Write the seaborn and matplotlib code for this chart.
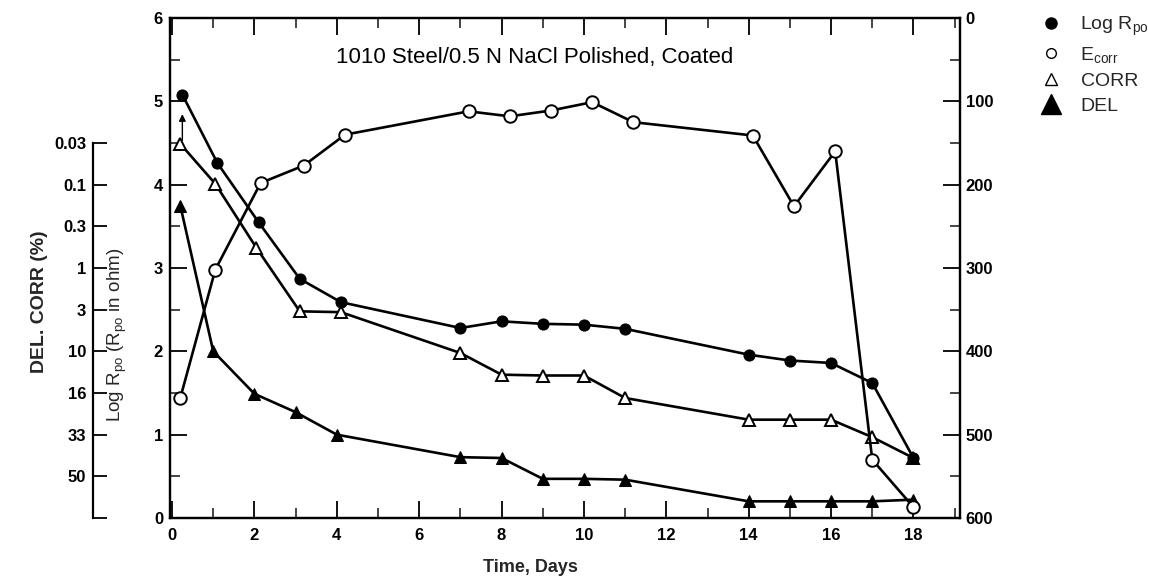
import numpy as np
import pandas as pd
import matplotlib
matplotlib.use("Agg")
import matplotlib.pyplot as plt
from matplotlib.lines import Line2D
from matplotlib.ticker import MultipleLocator
import seaborn as sns

# ---------------- data ----------------
logr_days = [0.25, 1.1, 2.1, 3.1, 4.1, 7.0, 8.0, 9.0, 10.0, 11.0, 14.0, 15.0, 16.0, 17.0, 18.0]
logr_vals = [5.08, 4.26, 3.55, 2.87, 2.59, 2.28, 2.36, 2.33, 2.32, 2.27, 1.96, 1.89, 1.86, 1.62, 0.72]

ecorr_days = [0.2, 1.05, 2.15, 3.2, 4.2, 7.2, 8.2, 9.2, 10.2, 11.2, 14.1, 15.1, 16.1, 17.0, 18.0]
ecorr_vals = [456, 302, 198, 177, 140, 112, 118, 111, 101, 125, 141, 226, 160, 530, 587]

corr_days = [0.2, 1.05, 2.05, 3.1, 4.1, 7.0, 8.0, 9.0, 10.0, 11.0, 14.0, 15.0, 16.0, 17.0, 18.0]
corr_vals = [4.49, 4.01, 3.24, 2.48, 2.47, 1.98, 1.72, 1.71, 1.71, 1.44, 1.18, 1.18, 1.18, 0.97, 0.72]

del_days = [0.2, 1.0, 2.0, 3.0, 4.0, 7.0, 8.0, 9.0, 10.0, 11.0, 14.0, 15.0, 16.0, 17.0, 18.0]
del_vals = [3.75, 2.0, 1.49, 1.27, 1.0, 0.73, 0.72, 0.47, 0.47, 0.46, 0.2, 0.2, 0.2, 0.2, 0.22]

delcorr_pos = [0.0, 0.5, 1.0, 1.5, 2.0, 2.5, 3.0, 3.5, 4.0, 4.5]
delcorr_labels = ["", "50", "33", "16", "10", "3", "1", "0.3", "0.1", "0.03"]

x_ticks = list(range(0, 19, 2))
left_ticks = list(range(0, 7))
right_ticks = list(range(0, 601, 100))

arrow_day, arrow_from, arrow_to = 0.25, 4.5, 4.88

title_text = "1010 Steel/0.5 N NaCl Polished, Coated"

# ---------------- style ----------------
sns.set_theme(style="white")
plt.rcParams["font.family"] = ["Liberation Sans", "DejaVu Sans"]
plt.rcParams["mathtext.fontset"] = "custom"
plt.rcParams["mathtext.rm"] = "Liberation Sans"
plt.rcParams["mathtext.it"] = "Liberation Sans"

W, H = 1149, 585
fig = plt.figure(figsize=(W / 100, H / 100), dpi=100)
fig.patch.set_facecolor("white")

ax_l, ax_r, ax_t, ax_b = 170, 960, 18, 518
ax = fig.add_axes([ax_l / W, 1 - ax_b / H, (ax_r - ax_l) / W, (ax_b - ax_t) / H])
ax.set_facecolor("white")

lw = 1.9
ms = 8

df_logr = pd.DataFrame({"day": logr_days, "v": logr_vals})
df_corr = pd.DataFrame({"day": corr_days, "v": corr_vals})
df_del = pd.DataFrame({"day": del_days, "v": del_vals})
df_ecorr = pd.DataFrame({"day": ecorr_days, "v": ecorr_vals})

sns.lineplot(data=df_del, x="day", y="v", ax=ax, color="black", lw=lw, marker="^",
             markersize=ms + 1, markerfacecolor="black", markeredgecolor="black", sort=False)
sns.lineplot(data=df_corr, x="day", y="v", ax=ax, color="black", lw=lw, marker="^",
             markersize=ms + 1, markerfacecolor="white", markeredgecolor="black",
             markeredgewidth=1.4, sort=False)
sns.lineplot(data=df_logr, x="day", y="v", ax=ax, color="black", lw=lw, marker="o",
             markersize=ms, markerfacecolor="black", markeredgecolor="black", sort=False)

ax.annotate("", xy=(arrow_day, arrow_to), xytext=(arrow_day, arrow_from),
            arrowprops=dict(arrowstyle="-|>", color="black", lw=1.0, mutation_scale=10))

ax.set_xlim(-0.05, 19.13)
ax.set_ylim(0, 6)
ax.set_xticks(x_ticks)
ax.set_xticklabels([str(t) for t in x_ticks])
ax.xaxis.set_minor_locator(MultipleLocator(1))
ax.set_yticks(left_ticks)
ax.set_yticklabels([str(t) for t in left_ticks])
ax.yaxis.set_minor_locator(MultipleLocator(0.5))
ax.tick_params(axis="both", which="major", direction="in", length=12, width=1.3,
               labelsize=12, colors="black", pad=5)
ax.tick_params(axis="both", which="minor", direction="in", length=7, width=1.2)
ax.tick_params(axis="x", which="both", top=True, bottom=True)
ax.tick_params(axis="y", which="both", left=True)
ax.tick_params(axis="x", which="major", pad=7)
for lab in ax.get_xticklabels() + ax.get_yticklabels():
    lab.set_fontweight("bold")
for s in ax.spines.values():
    s.set_color("black")
    s.set_linewidth(1.6)
ax.set_xlabel("")
ax.set_ylabel("")

# right axis: E_corr
ax2 = ax.twinx()
sns.lineplot(data=df_ecorr, x="day", y="v", ax=ax2, color="black", lw=lw, marker="o",
             markersize=ms + 1, markerfacecolor="white", markeredgecolor="black",
             markeredgewidth=1.4, sort=False)
ax2.set_ylim(600, 0)
ax2.set_yticks(right_ticks)
ax2.set_yticklabels([str(t) for t in right_ticks])
ax2.yaxis.set_minor_locator(MultipleLocator(50))
ax2.tick_params(axis="y", which="major", direction="in", length=12, width=1.3,
                labelsize=12, colors="black", pad=4, right=True)
ax2.tick_params(axis="y", which="minor", direction="in", length=7, width=1.2, right=True)
for lab in ax2.get_yticklabels():
    lab.set_fontweight("bold")
ax2.set_ylabel("")
ax2.set_xlabel("")
for s in ax2.spines.values():
    s.set_color("black")
    s.set_linewidth(1.6)
ax2.grid(False)
ax.grid(False)

# secondary left scale: DEL. CORR (%)
sec_x = 93
axs = fig.add_axes([sec_x / W, 1 - ax_b / H, 0.01, (ax_b - ax_t) / H])
axs.set_ylim(0, 6)
axs.set_xticks([])
axs.patch.set_visible(False)
for k in ["top", "right", "bottom"]:
    axs.spines[k].set_visible(False)
axs.spines["left"].set_bounds(0, 4.5)
axs.spines["left"].set_linewidth(1.6)
axs.spines["left"].set_color("black")
axs.set_yticks(delcorr_pos)
axs.set_yticklabels(delcorr_labels)
axs.tick_params(axis="y", which="major", direction="in", length=10, width=1.3,
                labelsize=12, pad=5, colors="black", left=True)
for lab in axs.get_yticklabels():
    lab.set_fontweight("bold")

# texts
fig.text(535 / W, 1 - 58 / H, title_text, ha="center", va="center",
         fontsize=16, color="black")
fig.text(40 / W, 1 - 302 / H, "DEL. CORR (%)", rotation=90, ha="center", va="center",
         fontsize=14, fontweight="bold")
fig.text(117 / W, 1 - 335 / H, r"Log R$_{\rm po}$ (R$_{\rm po}$ in ohm)", rotation=90,
         ha="center", va="center", fontsize=13.5)
fig.text(530 / W, 1 - 568 / H, "Time, Days", ha="center", va="center",
         fontsize=13, fontweight="bold")

# legend
handles = [
    Line2D([], [], ls="none", marker="o", ms=8, mfc="black", mec="black"),
    Line2D([], [], ls="none", marker="o", ms=7, mfc="white", mec="black", mew=1.0),
    Line2D([], [], ls="none", marker="^", ms=8, mfc="white", mec="black", mew=1.0),
    Line2D([], [], ls="none", marker="^", ms=15, mfc="black", mec="black"),
]
labels = [r"Log R$_{\rm po}$", r"E$_{\rm corr}$", "CORR", "DEL"]
fig.legend(handles, labels, loc="upper left", bbox_to_anchor=(1028 / W, 1 - 1 / H),
           frameon=False, fontsize=14, handlelength=1.0, handletextpad=1.0,
           labelspacing=0.38, borderpad=0.2)

fig.savefig("out.png", dpi=100, facecolor="white")
